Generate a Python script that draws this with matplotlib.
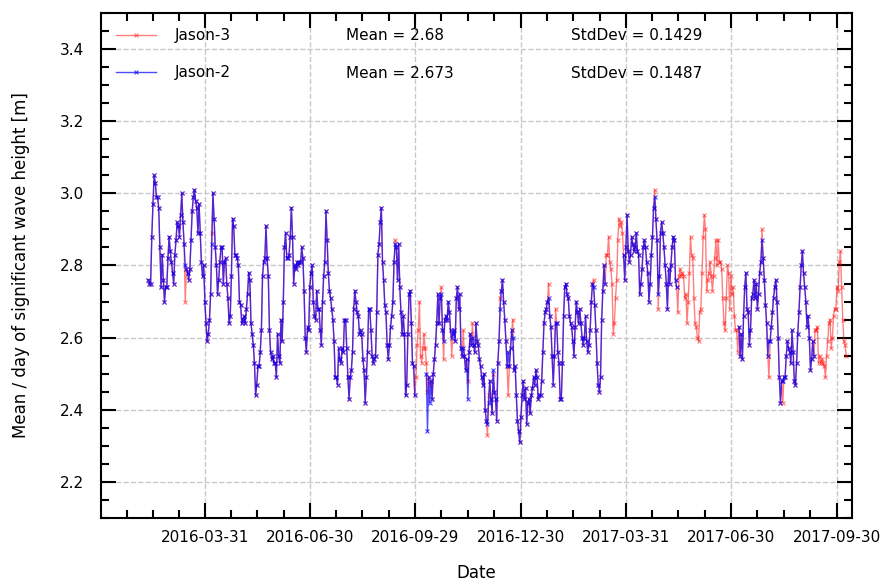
import numpy as np
import pandas as pd
import matplotlib
matplotlib.use('Agg')
import matplotlib.pyplot as plt
import matplotlib.dates as mdates
from matplotlib.ticker import MultipleLocator, FixedLocator

nan = np.nan

# daily means, first day 2016-02-11
first_day = '2016-02-11'

# Jason-3, Feb - May 2016
j3_a = [2.76, 2.75, 2.75, 2.88, 2.97, 3.05, 3.03, 2.99, 2.99, 2.96,
        2.85, 2.74, 2.83, 2.76, 2.70, 2.74, 2.74, 2.82, 2.88, 2.84,
        2.81, 2.78, 2.75, 2.83, 2.87, 2.92, 2.91, 2.88, 2.94, 3.00,
        2.92, 2.86, 2.70, 2.79, 2.78, 2.76, 2.79, 2.87, 2.95, 2.99,
        3.01, 2.98, 2.96, 2.89, 2.97, 2.89, 2.81, 2.77, 2.80, 2.70,
        2.64, 2.59, 2.61, 2.65, 2.72, 2.89, 3.00, 2.93, 2.85, 2.80,
        2.72, 2.76, 2.81, 2.85, 2.85, 2.75, 2.81, 2.82, 2.75, 2.71,
        2.64, 2.66, 2.77, 2.93, 2.91, 2.83, 2.83, 2.82, 2.80, 2.70,
        2.69, 2.64, 2.65, 2.66, 2.64, 2.68, 2.72, 2.78, 2.76, 2.64,
        2.61, 2.58, 2.53, 2.44, 2.47, 2.52]
# May - Aug 2016
j3_b = [2.52, 2.56, 2.62, 2.77, 2.81, 2.82, 2.91, 2.82, 2.77, 2.62,
        2.56, 2.54, 2.55, 2.53, 2.53, 2.49, 2.61, 2.55, 2.53, 2.65,
        2.59, 2.70, 2.85, 2.89, 2.82, 2.82, 2.83, 2.88, 2.96, 2.88,
        2.75, 2.80, 2.79, 2.81, 2.80, 2.81, 2.81, 2.85, 2.82, 2.73,
        2.60, 2.56, 2.63, 2.62, 2.74, 2.78, 2.80, 2.70, 2.66, 2.65,
        2.73, 2.68, 2.68, 2.62, 2.58, 2.70, 2.77, 2.81, 2.95, 2.87,
        2.78, 2.73, 2.71, 2.68, 2.65, 2.59, 2.49, 2.49, 2.47, 2.57,
        2.54, 2.53, 2.57, 2.56, 2.65, 2.65, 2.57, 2.49, 2.43, 2.49,
        2.51, 2.56, 2.68, 2.73, 2.70, 2.67, 2.66, 2.61, 2.62, 2.61,
        2.54, 2.51, 2.42, 2.49, 2.56, 2.68, 2.68, 2.62, 2.55, 2.53]
# Aug - Nov 2016
j3_c = [2.54, 2.55, 2.67, 2.83, 2.86, 2.92, 2.96, 2.81, 2.76, 2.69,
        2.67, 2.58, 2.54, 2.58, 2.63, 2.66, 2.70, 2.81, 2.87, 2.85,
        2.76, 2.86, 2.74, 2.67, 2.61, 2.66, 2.61, 2.44, 2.47, 2.61,
        2.72, 2.73, 2.64, 2.53, 2.52, 2.44, 2.49, 2.58, 2.62, 2.70,
        2.55, 2.53, 2.57, 2.61, 2.57, 2.53, 2.45, 2.49, 2.47, 2.48,
        2.43, 2.50, 2.54, 2.58, 2.64, 2.72, 2.64, 2.71, 2.74, 2.62,
        2.54, 2.65, 2.66, 2.65, 2.70, 2.67, 2.62, 2.55, 2.61, 2.62,
        2.59, 2.71, 2.74, 2.68, 2.72, 2.57, 2.55, 2.62, 2.55, 2.51,
        2.54, 2.48, 2.56, 2.61, 2.58, 2.64, 2.58, 2.56, 2.64, 2.59,
        2.58, 2.54, 2.52, 2.49, 2.47, 2.50]
# Nov 2016 - Mar 2017
j3_d = [2.40, 2.37, 2.33, 2.44, 2.48, 2.43, 2.39, 2.50, 2.45, 2.43,
        2.37, 2.53, 2.59, 2.71, 2.73, 2.76, 2.70, 2.65, 2.59, 2.52,
        2.44, 2.52, 2.57, 2.62, 2.65, 2.51, 2.52, 2.44, 2.37, 2.34,
        2.31, 2.38, 2.44, 2.48, 2.43, 2.46, 2.36, 2.42, 2.43, 2.39,
        2.44, 2.46, 2.49, 2.47, 2.51, 2.49, 2.43, 2.44, 2.44, 2.48,
        2.56, 2.64, 2.67, 2.68, 2.70, 2.75, 2.66, 2.63, 2.55, 2.47,
        2.55, 2.68, 2.64, 2.56, 2.53, 2.43, 2.43, 2.53, 2.66, 2.74,
        2.75, 2.72, 2.71, 2.66, 2.64, 2.63, 2.59, 2.55, 2.63, 2.70,
        2.67, 2.64, 2.68, 2.64, 2.60, 2.58, 2.60, 2.66, 2.59, 2.56,
        2.58, 2.62, 2.70, 2.75, 2.76, 2.69, 2.62, 2.53, 2.47, 2.45]
# Mar - Jun 2017
j3_e = [2.49, 2.65, 2.73, 2.80, 2.75, 2.83, 2.83, 2.88, 2.81, 2.79,
        2.75, 2.61, 2.64, 2.71, 2.76, 2.87, 2.93, 2.91, 2.92, 2.89,
        2.83, 2.76, 2.85, 2.94, 2.84, 2.81, 2.83, 2.88, 2.86, 2.84,
        2.85, 2.89, 2.84, 2.83, 2.72, 2.75, 2.79, 2.85, 2.87, 2.85,
        2.81, 2.78, 2.70, 2.75, 2.83, 2.88, 2.96, 3.01, 2.93, 2.87,
        2.68, 2.77, 2.89, 2.92, 2.89, 2.85, 2.80, 2.75, 2.68, 2.79,
        2.75, 2.80, 2.85, 2.88, 2.87, 2.76, 2.74, 2.67, 2.77, 2.79,
        2.77, 2.78, 2.77, 2.71, 2.72, 2.64, 2.70, 2.78, 2.88, 2.83,
        2.82, 2.71, 2.64, 2.63, 2.60, 2.59, 2.67, 2.68, 2.78, 2.88,
        2.94, 2.90, 2.73, 2.76, 2.78, 2.81, 2.77, 2.73, 2.77, 2.82,
        2.87, 2.80, 2.87]
# Jun - Oct 2017
j3_f = [2.81, 2.81, 2.79, 2.71, 2.64, 2.62, 2.71, 2.80, 2.78, 2.68,
        2.77, 2.72, 2.74, 2.66, 2.62, 2.62, 2.56, 2.63, 2.55, 2.61,
        2.54, 2.66, 2.74, 2.78, 2.68, 2.67, 2.58, 2.62, 2.71, 2.72,
        2.76, 2.71, 2.75, 2.68, 2.72, 2.78, 2.81, 2.90, 2.82, 2.76,
        2.69, 2.64, 2.55, 2.49, 2.59, 2.63, 2.67, 2.71, 2.74, 2.76,
        2.70, 2.60, 2.49, 2.42, 2.48, 2.42, 2.49, 2.49, 2.55, 2.59,
        2.57, 2.56, 2.53, 2.62, 2.56, 2.48, 2.47, 2.53, 2.61, 2.67,
        2.74, 2.80, 2.84, 2.78, 2.74, 2.70, 2.63, 2.66, 2.60, 2.51,
        2.54, 2.59, 2.55, 2.62, 2.62, 2.63, 2.53, 2.55, 2.53, 2.54,
        2.53, 2.52, 2.49, 2.55, 2.59, 2.64, 2.65, 2.57, 2.60, 2.66,
        2.68, 2.68, 2.74, 2.73, 2.81, 2.84, 2.74, 2.65, 2.59, 2.58,
        2.55]

# Jason-2, same days (nan = no data)
j2_a = [2.76, 2.75, 2.75, 2.88, 2.97, 3.05, 3.03, 2.99, 2.99, 2.96,
        2.85, 2.74, 2.83, 2.76, 2.70, 2.74, 2.74, 2.82, 2.88, 2.84,
        2.81, 2.78, 2.75, 2.83, 2.87, 2.92, 2.91, 2.88, 2.94, 3.00,
        2.92, 2.86, 2.80, 2.79, 2.78, 2.76, 2.79, 2.87, 2.95, 2.99,
        3.01, 2.98, 2.96, 2.89, 2.97, 2.89, 2.81, 2.77, 2.80, 2.70,
        2.64, 2.59, 2.61, 2.65, 2.72, 2.86, 3.00, 2.93, 2.85, 2.80,
        2.72, 2.76, 2.81, 2.85, 2.85, 2.75, 2.81, 2.82, 2.75, 2.71,
        2.64, 2.66, 2.77, 2.93, 2.91, 2.83, 2.83, 2.82, 2.80, 2.70,
        2.69, 2.64, 2.65, 2.66, 2.64, 2.68, 2.72, 2.78, 2.76, 2.64,
        2.61, 2.58, 2.53, 2.44, 2.47, 2.52]
j2_b = [2.52, 2.56, 2.62, 2.77, 2.81, 2.82, 2.91, 2.82, 2.77, 2.62,
        2.56, 2.54, 2.55, 2.53, 2.53, 2.49, 2.61, 2.55, 2.53, 2.65,
        2.59, 2.70, 2.85, 2.89, 2.82, 2.82, 2.83, 2.88, 2.96, 2.88,
        2.75, 2.80, 2.79, 2.81, 2.80, 2.81, 2.81, 2.85, 2.82, 2.73,
        2.60, 2.56, 2.63, 2.62, 2.74, 2.78, 2.80, 2.70, 2.66, 2.65,
        2.73, 2.68, 2.68, 2.62, 2.58, 2.70, 2.77, 2.81, 2.95, 2.87,
        2.78, 2.73, 2.71, 2.68, 2.65, 2.59, 2.49, 2.49, 2.47, 2.57,
        2.54, 2.53, 2.57, 2.56, 2.65, 2.65, 2.57, 2.49, 2.43, 2.49,
        2.51, 2.56, 2.68, 2.73, 2.70, 2.67, 2.66, 2.61, 2.62, 2.61,
        2.54, 2.51, 2.42, 2.49, 2.56, 2.68, 2.68, 2.62, 2.55, 2.53]
j2_c = [2.54, 2.55, 2.67, 2.83, 2.86, 2.92, 2.96, 2.81, 2.76, 2.69,
        2.67, 2.58, 2.54, 2.58, 2.63, 2.66, 2.70, 2.81, 2.86, 2.85,
        2.76, 2.86, 2.74, 2.67, 2.61, 2.66, 2.61, 2.44, 2.47, 2.61,
        2.72, 2.73, 2.64, 2.53, 2.52, 2.44, nan, nan, nan, nan,
        nan, nan, nan, nan, nan, 2.50, 2.34, 2.49, 2.42, 2.48,
        2.43, 2.50, 2.54, 2.58, 2.64, 2.72, 2.64, 2.71, 2.72, 2.62,
        2.59, 2.65, 2.66, 2.65, 2.70, 2.67, 2.62, 2.60, 2.61, 2.62,
        2.59, 2.71, 2.74, 2.68, 2.72, 2.57, 2.55, 2.57, 2.55, 2.51,
        2.54, 2.43, 2.56, 2.61, 2.58, 2.60, 2.58, 2.56, 2.64, 2.59,
        2.58, 2.54, 2.52, 2.49, 2.47, 2.50]
j2_d = [2.40, 2.37, 2.36, 2.42, 2.48, 2.43, 2.39, 2.51, 2.45, 2.43,
        2.37, 2.53, 2.59, 2.68, 2.73, 2.76, 2.70, 2.65, 2.59, 2.52,
        2.56, 2.52, 2.57, 2.62, 2.60, 2.51, 2.52, 2.44, 2.37, 2.34,
        2.31, 2.38, 2.44, 2.48, 2.43, 2.46, 2.36, 2.42, 2.43, 2.39,
        2.44, 2.46, 2.49, 2.47, 2.51, 2.49, 2.43, 2.44, 2.44, 2.48,
        2.56, 2.64, 2.67, 2.68, 2.70, 2.71, 2.66, 2.63, 2.55, 2.47,
        2.55, 2.64, 2.64, 2.56, 2.53, 2.43, 2.43, 2.53, 2.66, 2.74,
        2.75, 2.72, 2.71, 2.66, 2.64, 2.63, 2.59, 2.55, 2.63, 2.70,
        2.67, 2.64, 2.68, 2.64, 2.60, 2.58, 2.60, 2.66, 2.59, 2.56,
        2.58, 2.62, 2.70, 2.75, 2.74, 2.69, 2.62, 2.53, 2.47, 2.45]
j2_e = [2.49, 2.65, 2.73, 2.80, 2.75, nan, nan, nan, nan, nan,
        nan, nan, nan, nan, nan, nan, nan, nan, nan, nan,
        2.83, 2.76, 2.85, 2.94, 2.84, 2.81, 2.83, 2.88, 2.86, 2.84,
        2.85, 2.89, 2.84, 2.83, 2.72, 2.75, 2.79, 2.85, 2.87, 2.85,
        2.81, 2.78, 2.70, 2.75, 2.83, 2.88, 2.96, 2.99, 2.93, 2.87,
        2.72, 2.77, 2.89, 2.92, 2.89, 2.85, 2.80, 2.75, 2.68, 2.79,
        2.75, 2.80, 2.85, 2.88, 2.87, 2.76, 2.74, nan, nan, nan,
        nan, nan, nan, nan, nan, nan, nan, nan, nan, nan,
        nan, nan, nan, nan, nan, nan, nan, nan, nan, nan,
        nan, nan, nan, nan, nan, nan, nan, nan, nan, nan,
        nan, nan, nan]
j2_f = [nan, nan, nan, nan, nan, nan, nan, nan, nan, nan,
        nan, nan, nan, nan, nan, nan, nan, 2.63, 2.55, 2.61,
        2.54, 2.66, 2.74, 2.78, 2.68, 2.67, 2.58, 2.62, 2.71, 2.72,
        2.76, 2.71, 2.75, 2.68, 2.72, 2.78, 2.81, 2.87, 2.82, 2.76,
        2.69, 2.64, 2.55, 2.59, 2.59, 2.63, 2.67, 2.71, 2.74, 2.76,
        2.70, 2.60, 2.49, 2.42, 2.48, 2.48, 2.49, 2.49, 2.55, 2.59,
        2.57, 2.56, 2.53, 2.62, 2.56, 2.48, 2.47, 2.53, 2.61, 2.67,
        2.74, 2.80, 2.84, 2.78, 2.74, 2.70, 2.63, 2.66, 2.60, 2.51,
        2.54, 2.59, 2.55, nan, nan, nan, nan, nan, nan, nan,
        nan, nan, nan, nan, nan, nan, nan, nan, nan, nan,
        nan, nan, nan, nan, nan, nan, nan, nan, nan, nan,
        nan]

jason3 = j3_a + j3_b + j3_c + j3_d + j3_e + j3_f
jason2 = j2_a + j2_b + j2_c + j2_d + j2_e + j2_f
days = pd.date_range(first_day, periods=len(jason3), freq='D')

stats_j3 = ['Mean = 2.68', 'StdDev = 0.1429']
stats_j2 = ['Mean = 2.673', 'StdDev = 0.1487']
tick_dates = ['2016-03-31', '2016-06-30', '2016-09-29', '2016-12-30',
              '2017-03-31', '2017-06-30', '2017-09-30']

fig = plt.figure(figsize=(8.84, 5.82), dpi=100)
ax = fig.add_axes([0.1143, 0.110, 0.8495, 0.8677])

ax.plot(days, jason3, color='red', alpha=0.5, lw=1, marker='x', ms=3, mew=0.8, label='Jason-3')
ax.plot(days, jason2, color='blue', alpha=0.7, lw=1, marker='x', ms=3, mew=0.8, label='Jason-2')

# x ticks
x0 = mdates.date2num(pd.Timestamp('2016-01-01'))
majors = [mdates.date2num(pd.Timestamp(d)) for d in tick_dates]
edges = [x0] + majors
minors = []
for a, b in zip(edges[:-1], edges[1:]):
    minors += [a + k * (b - a) / 4 for k in (1, 2, 3)]
ax.xaxis.set_major_locator(FixedLocator(majors))
ax.xaxis.set_minor_locator(FixedLocator(minors))
ax.xaxis.set_major_formatter(mdates.DateFormatter('%Y-%m-%d'))
ax.set_xlim(x0, mdates.date2num(pd.Timestamp('2017-10-13')))

ax.set_ylim(2.1, 3.5)
ax.yaxis.set_major_locator(MultipleLocator(0.2))
ax.yaxis.set_minor_locator(MultipleLocator(0.05))

ax.tick_params(which='both', direction='in', top=True, right=True, width=1.5, labelsize=11)
ax.tick_params(which='major', length=11)
ax.tick_params(which='minor', length=6)
ax.tick_params(axis='x', pad=9)
ax.tick_params(axis='y', pad=12)
for s in ax.spines.values():
    s.set_linewidth(1.5)

ax.grid(True, which='major', ls='--', color='#c8c8c8', lw=1)

ax.set_xlabel('Date', fontsize=12, labelpad=13)
ax.set_ylabel('Mean / day of significant wave height [m]', fontsize=12, labelpad=22)

ax.legend(loc='upper left', frameon=False, fontsize=11, handlelength=2.6,
          handletextpad=1.2, labelspacing=1.45, borderaxespad=0.6)
ax.text(0.326, 0.956, stats_j3[0], transform=ax.transAxes, va='center', fontsize=11)
ax.text(0.626, 0.956, stats_j3[1], transform=ax.transAxes, va='center', fontsize=11)
ax.text(0.326, 0.881, stats_j2[0], transform=ax.transAxes, va='center', fontsize=11)
ax.text(0.626, 0.881, stats_j2[1], transform=ax.transAxes, va='center', fontsize=11)

fig.savefig('out.png', dpi=100)
